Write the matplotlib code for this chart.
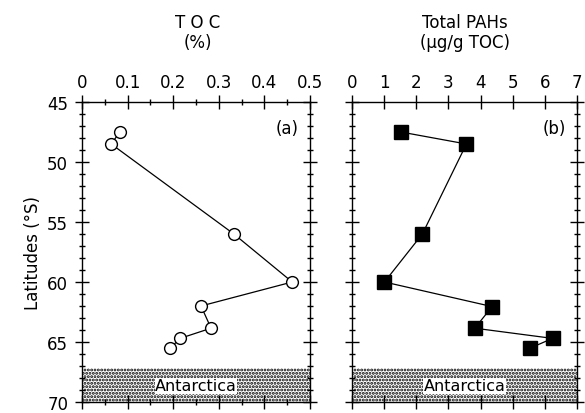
import matplotlib
matplotlib.use("Agg")
import matplotlib.pyplot as plt
from matplotlib.ticker import MultipleLocator

plt.rcParams['font.family'] = ['DejaVu Sans']
plt.rcParams['hatch.linewidth'] = 1.4

# TOC (%) vs latitude
toc_lat = [47.5, 48.5, 56.0, 60.0, 62.0, 63.85, 64.7, 65.5]
toc_val = [0.083, 0.064, 0.333, 0.461, 0.261, 0.283, 0.215, 0.194]

# Total PAHs (ug/g TOC) vs latitude
pah_lat = [47.5, 48.5, 56.0, 60.0, 62.05, 63.85, 64.7, 65.5]
pah_val = [1.52, 3.56, 2.19, 1.01, 4.36, 3.82, 6.24, 5.55]

antarctica_top = 67.2

fig = plt.figure(figsize=(5.85, 4.14), dpi=100)
ax1 = fig.add_axes([0.1402, 0.0266, 0.3897, 0.7246])
ax2 = fig.add_axes([0.6017, 0.0266, 0.3846, 0.7246])


def style_axis(ax, xmax, xmajor, xminor):
    ax.set_xlim(0, xmax)
    ax.set_ylim(70, 45)
    ax.xaxis.set_major_locator(MultipleLocator(xmajor))
    if xminor:
        ax.xaxis.set_minor_locator(MultipleLocator(xminor))
    ax.yaxis.set_major_locator(MultipleLocator(5))
    ax.yaxis.set_minor_locator(MultipleLocator(1))
    ax.tick_params(which='both', direction='inout', top=True, bottom=True,
                   left=True, right=True, labeltop=True, labelbottom=False,
                   width=1.0, labelsize=12)
    ax.tick_params(which='major', length=10, pad=3)
    ax.tick_params(which='minor', length=5)
    ax.tick_params(axis='y', which='major', pad=5)
    for s in ax.spines.values():
        s.set_linewidth(1.0)
    ax.axhspan(antarctica_top, 70, facecolor='white', edgecolor='black',
               hatch='.....', linewidth=0, zorder=1)


style_axis(ax1, 0.5, 0.1, 0.05)
style_axis(ax2, 7, 1, None)

ax1.set_xticks([0, 0.1, 0.2, 0.3, 0.4, 0.5])
ax1.set_xticklabels(['0', '0.1', '0.2', '0.3', '0.4', '0.5'])
ax2.tick_params(axis='y', labelleft=False)

ax1.plot(toc_val, toc_lat, color='black', lw=0.9, marker='o', ms=8.5,
         mfc='white', mec='black', mew=1.0, zorder=3)
ax2.plot(pah_val, pah_lat, color='black', lw=0.9, marker='s', ms=9.5,
         mfc='black', mec='black', zorder=3)

for ax, x in [(ax1, 0.25), (ax2, 3.5)]:
    ax.text(x, 68.65, 'Antarctica', ha='center', va='center', fontsize=11.5,
            zorder=2, bbox=dict(facecolor='white', edgecolor='none', pad=0.3))

ax1.text(0.95, 0.915, '(a)', transform=ax1.transAxes, ha='right', va='center',
         fontsize=12)
ax2.text(0.95, 0.915, '(b)', transform=ax2.transAxes, ha='right', va='center',
         fontsize=12)

ax1.set_ylabel('Latitudes (°S)', fontsize=12, labelpad=4)

fig.text(0.338, 0.945, 'T O C', ha='center', va='center', fontsize=12)
fig.text(0.338, 0.895, '(%)', ha='center', va='center', fontsize=12)
fig.text(0.795, 0.945, 'Total PAHs', ha='center', va='center', fontsize=12)
fig.text(0.795, 0.895, '(µg/g TOC)', ha='center', va='center', fontsize=12)

fig.savefig('out.png', dpi=100)
